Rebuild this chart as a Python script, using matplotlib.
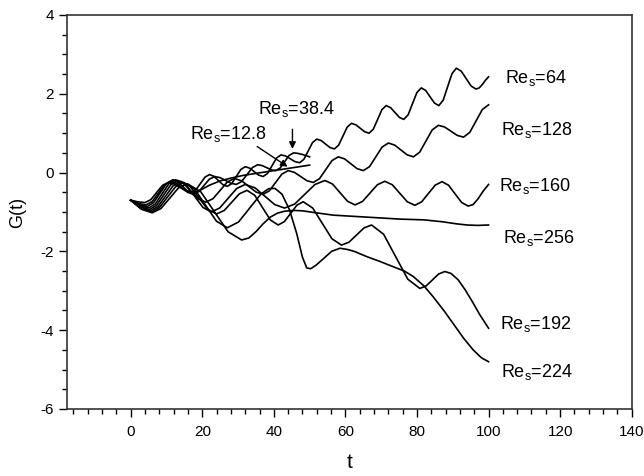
import matplotlib
matplotlib.use("Agg")
import matplotlib.pyplot as plt
from matplotlib.ticker import MultipleLocator, FixedLocator

plt.rcParams['font.family'] = ['Liberation Sans', 'DejaVu Sans']
plt.rcParams['mathtext.fontset'] = 'custom'
plt.rcParams['mathtext.rm'] = 'Liberation Sans'
plt.rcParams['mathtext.it'] = 'Liberation Sans'
plt.rcParams['axes.unicode_minus'] = False

# ---- data ----
t_12_8 = [0, 2, 4, 5.63, 7.25, 8.88, 10.5, 12.13, 13.75, 15.38, 17, 18.5, 20, 22, 25, 28, 31.5, 35, 40, 45, 50]
g_12_8 = [-0.7, -0.742, -0.76, -0.686, -0.505, -0.324, -0.25, -0.287, -0.375, -0.464, -0.5, -0.48, -0.42, -0.32,
          -0.21, -0.14, -0.07, -0.02, 0.05, 0.12, 0.19]

t_38_4 = [0, 2.15, 4.3, 6.03, 7.75, 9.48, 11.2, 12.78, 14.35, 15.93, 17.5, 19, 20.5, 22, 23.5, 25, 26.5, 28, 29.5,
          31, 32.5, 34, 35.5, 36.75, 38, 39.25, 40.5, 41.75, 43, 44.25, 45.5, 46.6, 47.8, 49, 50]
g_38_4 = [-0.7, -0.784, -0.82, -0.732, -0.52, -0.308, -0.22, -0.268, -0.385, -0.502, -0.55, -0.484, -0.325, -0.166, -0.1,
          -0.129, -0.2, -0.271, -0.3, -0.227, -0.05, 0.127, 0.2, 0.178, 0.125, 0.072, 0.05, 0.116, 0.275, 0.434, 0.5,
          0.49, 0.465, 0.43, 0.4]

t_64 = [0, 2.3, 4.6, 6.4, 8.2, 10, 11.8, 13.1, 14.4, 15.7, 17, 18.25, 19.5, 20.75, 22, 23.25, 24.5, 25.75, 27,
        28.25, 29.5, 30.75, 32, 33.25, 34.5, 35.75, 37, 38.25, 39.5, 40.75, 42, 43.3, 44.6, 45.9, 47.2, 48.4,
        49.6, 50.8, 52, 53.23, 54.45, 55.68, 56.9, 58.1, 59.3, 60.5, 61.7, 62.93, 64.15, 65.38, 66.6, 67.8, 69,
        70.2, 71.4, 72.63, 73.85, 75.08, 76.3, 77.53, 78.75, 79.98, 81.2, 82.43, 83.65, 84.88, 86.1, 87.33,
        88.55, 89.78, 91, 92.38, 93.75, 95.13, 96.5, 97.4, 98.3, 99.2, 100]
g_64 = [-0.7, -0.812, -0.86, -0.761, -0.52, -0.279, -0.18, -0.227, -0.34, -0.453, -0.5, -0.434, -0.275, -0.116, -0.05,
        -0.094, -0.2, -0.306, -0.35, -0.277, -0.1, 0.077, 0.15, 0.113, 0.025, -0.063, -0.1, -0.02, 0.175, 0.37, 0.45,
        0.421, 0.35, 0.279, 0.25, 0.338, 0.55, 0.762, 0.85, 0.813, 0.725, 0.637, 0.6, 0.695, 0.925, 1.155, 1.25,
        1.213, 1.125, 1.037, 1.0, 1.102, 1.35, 1.598, 1.7, 1.649, 1.525, 1.401, 1.35, 1.467, 1.75, 2.033, 2.15,
        2.084, 1.925, 1.766, 1.7, 1.839, 2.175, 2.511, 2.65, 2.573, 2.385, 2.197, 2.12, 2.15, 2.24, 2.35, 2.43]

t_128 = [0, 2.5, 5, 6.88, 8.75, 10.63, 12.5, 14.63, 16.75, 18.88, 21, 23, 25, 27, 29, 31, 33, 35, 37, 38.75, 40.5,
         42.25, 44, 45.75, 47.5, 49.25, 51, 52.75, 54.5, 56.25, 58, 59.75, 61.5, 63.25, 65, 66.75, 68.5, 70.25,
         72, 73.75, 75.5, 77.25, 79, 80.75, 82.5, 84.25, 86, 87.75, 89.5, 91.25, 93, 94.75, 96.5, 98.25, 100]
g_128 = [-0.7, -0.84, -0.9, -0.795, -0.54, -0.285, -0.18, -0.263, -0.465, -0.667, -0.75, -0.662, -0.45, -0.238, -0.15,
         -0.208, -0.35, -0.492, -0.55, -0.462, -0.25, -0.038, 0.05, 0.006, -0.1, -0.206, -0.25, -0.155, 0.075, 0.305,
         0.4, 0.349, 0.225, 0.101, 0.05, 0.152, 0.4, 0.648, 0.75, 0.699, 0.575, 0.451, 0.4, 0.517, 0.8, 1.083, 1.2,
         1.156, 1.05, 0.944, 0.9, 1.02, 1.31, 1.6, 1.72]

t_160 = [0, 2.6, 5.2, 7.2, 9.2, 11.2, 13.2, 15.53, 17.85, 20.18, 22.5, 24.88, 27.25, 29.63, 32, 34.75, 37.5, 40.25,
         43, 45.83, 48.65, 51.48, 54.3, 56.4, 58.5, 60.6, 62.7, 64.78, 66.85, 68.93, 71, 73.1, 75.2, 77.3, 79.4,
         81.3, 83.2, 85.1, 87, 88.83, 90.65, 92.48, 94.3, 95.7, 97.1, 98.5, 100]
g_160 = [-0.7, -0.87, -0.94, -0.832, -0.57, -0.308, -0.2, -0.317, -0.6, -0.883, -1.0, -0.898, -0.65, -0.402, -0.3,
         -0.388, -0.6, -0.812, -0.9, -0.798, -0.55, -0.302, -0.2, -0.291, -0.51, -0.729, -0.82, -0.732, -0.52, -0.308,
         -0.22, -0.309, -0.525, -0.741, -0.83, -0.742, -0.53, -0.318, -0.23, -0.321, -0.54, -0.759, -0.85, -0.81,
         -0.66, -0.47, -0.3]

t_192 = [0, 2.75, 5.5, 7.63, 9.75, 11.88, 14, 16.5, 19, 21.5, 24, 26.13, 28.25, 30.38, 32.5, 34.68, 36.85, 39.03,
         41.2, 42.95, 44.7, 46.45, 48.2, 50.88, 53.55, 56.23, 58.9, 61, 63.1, 65.2, 67.3, 70.68, 74.05, 77.43, 80.8,
         82.55, 84.3, 86.05, 87.8, 89.5, 91.5, 93.5, 95.5, 97.5, 100]
g_192 = [-0.7, -0.9, -0.97, -0.86, -0.595, -0.33, -0.22, -0.341, -0.635, -0.929, -1.05, -0.962, -0.75, -0.538, -0.45,
         -0.578, -0.89, -1.202, -1.33, -1.244, -1.035, -0.826, -0.74, -0.901, -1.29, -1.679, -1.84, -1.766, -1.585,
         -1.404, -1.33, -1.565, -2.135, -2.705, -2.94, -2.877, -2.725, -2.573, -2.51, -2.56, -2.72, -2.98, -3.28,
         -3.6, -3.95]

t_224 = [0, 2.85, 5.7, 7.98, 10.25, 12.53, 14.8, 17.85, 20.9, 23.95, 27, 30.13, 33.25, 36.38, 38.5, 40.3, 42.3,
         44.4, 46.4, 48, 49.2, 50.3, 51.8, 53.85, 56.18, 58.5, 60.5, 62.5, 65.9, 69.5, 73.4, 76.5, 79, 82, 84.5,
         87.5, 90.1, 93, 95.7, 98, 100]
g_224 = [-0.7, -0.91, -1.0, -0.89, -0.625, -0.36, -0.25, -0.418, -0.825, -1.232, -1.4, -1.254, -0.9, -0.546, -0.41,
         -0.4, -0.55, -0.95, -1.55, -2.15, -2.42, -2.44, -2.35, -2.185, -1.997, -1.92, -1.95, -2.0, -2.13, -2.25,
         -2.39, -2.5, -2.64, -2.88, -3.15, -3.5, -3.83, -4.2, -4.5, -4.7, -4.8]

t_256 = [0, 3, 6, 8.45, 10.9, 13.35, 15.8, 19.6, 23.4, 27.2, 31, 33, 35, 37, 39, 41, 43, 45.5, 48, 51, 56.6, 65.9,
         75.2, 82, 87.3, 91, 94, 97, 100]
g_256 = [-0.7, -0.93, -1.02, -0.912, -0.65, -0.388, -0.28, -0.489, -0.995, -1.501, -1.71, -1.66, -1.5, -1.3, -1.13,
         -1.03, -0.98, -0.96, -0.97, -1.01, -1.08, -1.13, -1.18, -1.2, -1.25, -1.3, -1.33, -1.34, -1.33]

series = [(t_12_8, g_12_8), (t_38_4, g_38_4), (t_64, g_64), (t_128, g_128), (t_160, g_160),
          (t_192, g_192), (t_224, g_224), (t_256, g_256)]

end_labels = ["64", "128", "160", "256", "192", "224"]
end_label_x = [104.5, 103.5, 103.0, 104.0, 103.3, 103.5]
end_label_y = [2.40, 1.08, -0.33, -1.66, -3.84, -5.07]

fig = plt.figure(figsize=(6.44, 4.76), dpi=100)
ax = fig.add_axes([67/644, 1 - 409/476, (631.7 - 67)/644, (409 - 15)/476])

for t, g in series:
    ax.plot(t, g, color='black', lw=1.2, solid_joinstyle='round')

ax.set_xlim(-17.8, 140)
ax.set_ylim(-6, 4)
ax.xaxis.set_major_locator(FixedLocator([0, 20, 40, 60, 80, 100, 120, 140]))
ax.xaxis.set_minor_locator(MultipleLocator(4))
ax.yaxis.set_major_locator(MultipleLocator(2))
ax.yaxis.set_minor_locator(MultipleLocator(0.5))
ax.tick_params(which='both', direction='out', top=False, right=False, labelsize=11, width=1.0)
ax.tick_params(which='major', length=6)
ax.tick_params(which='minor', length=3.5)
ax.tick_params(axis='x', which='major', pad=5.5)
for s in ax.spines.values():
    s.set_linewidth(1.2)
    s.set_color('#333333')

ax.set_xlabel('t', fontsize=15, labelpad=10)
ax.set_ylabel('G(t)', fontsize=13, labelpad=10)

for lab, x, y in zip(end_labels, end_label_x, end_label_y):
    ax.text(x, y, r'Re$_{\rm s}$=' + lab, fontsize=13, va='center', ha='left')

ax.text(16.6, 0.98, r'Re$_{\rm s}$=12.8', fontsize=13, va='center', ha='left')
ax.text(35.6, 1.61, r'Re$_{\rm s}$=38.4', fontsize=13, va='center', ha='left')
ax.annotate('', xy=(45.2, 0.53), xytext=(45.2, 1.17),
            arrowprops=dict(arrowstyle='-|>', color='black', lw=1.0, mutation_scale=10))
ax.annotate('', xy=(44.5, 0.11), xytext=(34.7, 0.70),
            arrowprops=dict(arrowstyle='-|>', color='black', lw=1.0, mutation_scale=10))

fig.savefig('out.png', dpi=100)
